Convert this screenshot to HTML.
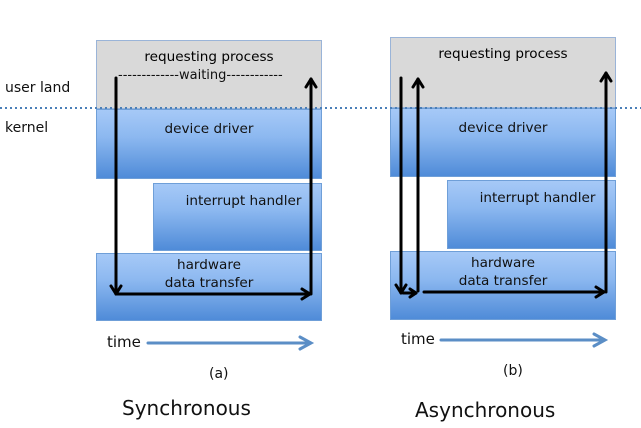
<!DOCTYPE html>
<html><head><style>
body{margin:0;width:641px;height:428px;background:#fff;position:relative;overflow:hidden;font-family:"DejaVu Sans","Liberation Sans",sans-serif;}
.b{position:absolute;box-sizing:border-box;border:1px solid #6f9fd8;background:linear-gradient(#a6c9f7 0%,#8cb8f0 40%,#4f8bd8 100%);font-size:13.6px;color:#111;text-align:center;}
.g{position:absolute;box-sizing:border-box;border:1px solid #9ab4d8;background:#d9d9d9;font-size:13.6px;text-align:center;}
.t{position:absolute;font-size:13px;color:#111;white-space:nowrap;}
</style></head><body>
<div class="g" style="left:96px;top:40px;width:226px;height:69px;padding-top:8px">requesting process</div>
<div class="b" style="left:96px;top:109px;width:226px;height:70px;padding-top:11px">device driver</div>
<div class="b" style="left:153px;top:183px;width:169px;height:68px;padding-top:9px;padding-left:12px">interrupt handler</div>
<div class="b" style="left:96px;top:253px;width:226px;height:68px;line-height:18px;padding-top:2px">hardware<br>data transfer</div>

<div class="g" style="left:390px;top:37px;width:226px;height:71px;padding-top:8px">requesting process</div>
<div class="b" style="left:390px;top:108px;width:226px;height:69px;padding-top:11px">device driver</div>
<div class="b" style="left:447px;top:180px;width:169px;height:69px;padding-top:9px;padding-left:12px">interrupt handler</div>
<div class="b" style="left:390px;top:251px;width:226px;height:69px;line-height:18px;padding-top:2px">hardware<br>data transfer</div>

<div class="t" style="left:118px;top:68px;font-size:13px">-------------waiting------------</div>
<div class="t" style="left:5px;top:80px;font-size:14px">user land</div>
<div class="t" style="left:5px;top:120px;font-size:14px">kernel</div>
<div class="t" style="left:107px;top:333px;font-size:15px">time</div>
<div class="t" style="left:401px;top:330px;font-size:15px">time</div>
<div class="t" style="left:209px;top:366px;font-size:14px">(a)</div>
<div class="t" style="left:503px;top:363px;font-size:14px">(b)</div>
<div class="t" style="left:122px;top:396px;font-size:20px">Synchronous</div>
<div class="t" style="left:415px;top:398px;font-size:20px">Asynchronous</div>

<svg width="641" height="428" style="position:absolute;left:0;top:0">
<line x1="0" y1="108" x2="641" y2="108" stroke="#4a7fb8" stroke-width="2" stroke-dasharray="2,3"/>
<g stroke="#000" stroke-width="3" fill="none" stroke-linecap="round" stroke-linejoin="round">
<path d="M116 78 V294"/><path d="M111 286 L116 294 L121 286"/>
<path d="M116 294 H310"/><path d="M302 289 L310 294 L302 299"/>
<path d="M311 294 V79"/><path d="M306 87 L311 79 L316 87"/>
<path d="M401 78 V293"/><path d="M396 285 L401 293 L406 285"/>
<path d="M403 293 H416"/><path d="M410 289 L416 293 L410 297"/>
<path d="M418 291 V79"/><path d="M413 87 L418 79 L423 87"/>
<path d="M424 292 H604"/><path d="M596 287 L604 292 L596 297"/>
<path d="M606 292 V73"/><path d="M601 81 L606 73 L611 81"/>
</g>
<g stroke="#5b8ec6" stroke-width="3" fill="none" stroke-linecap="round">
<path d="M148 343 H310"/><path d="M300 337 L311 343 L300 349"/>
<path d="M441 340 H604"/><path d="M594 334 L605 340 L594 346"/>
</g>
</svg>
</body></html>
